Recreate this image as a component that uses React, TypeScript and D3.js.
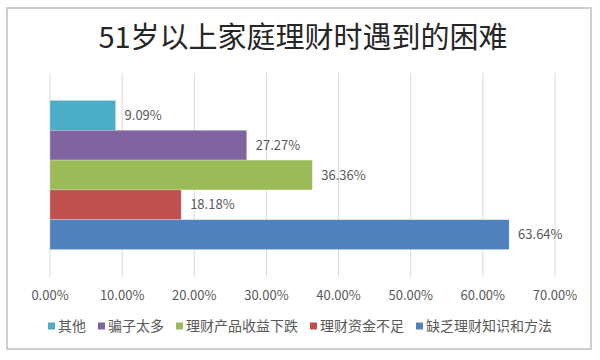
import React from 'react';
import * as d3 from 'd3';

// chart data
const title = '51岁以上家庭理财时遇到的困难';
const categories = ['其他', '骗子太多', '理财产品收益下跌', '理财资金不足', '缺乏理财知识和方法'];
const values = [9.09, 27.27, 36.36, 18.18, 63.64];
const colors = ['#4bacc6', '#8064a2', '#9bbb59', '#c0504d', '#4f81bd'];
const ticks = [0, 10, 20, 30, 40, 50, 60, 70];

const W = 600;
const H = 360;
const FONT = '"Microsoft YaHei", "Noto Sans CJK SC", sans-serif';

const App = () => {
  const x = d3.scaleLinear().domain([0, 70]).range([50, 555]);
  // plot area runs 73..277, the bars sit in the middle of it
  const plotTop = 73;
  const plotBottom = 277;
  const y = d3.scaleBand<string>()
    .domain(categories)
    .range([plotTop, plotBottom])
    .paddingInner(0)
    .paddingOuter(0.92);

  // legend layout: CJK glyphs are full width, so width = chars * font size
  const legendFs = 14;
  const marker = 7;
  const items = categories.map(c => marker + 3 + c.length * legendFs);
  const gap = 12;
  const total = d3.sum(items) + gap * (items.length - 1);
  let cursor = 300 - total / 2;
  const legendX = items.map(w => {
    const pos = cursor;
    cursor += w + gap;
    return pos;
  });

  return (
    <svg width={W} height={H} style={{ display: 'block', position: 'absolute', left: 0, top: 0 }} fontFamily={FONT}>
      <rect x={0} y={0} width={W} height={H} fill="#fff" />
      <rect x={7} y={8} width={584} height={341} fill="#fff" stroke="#bfbfbf" strokeWidth={1.5} />

      <text x={303} y={48} textAnchor="middle" fontSize={29} fill="#262626">{title}</text>

      {/* gridlines */}
      {ticks.map(t => (
        <line key={t} x1={x(t)} x2={x(t)} y1={plotTop} y2={plotBottom} stroke="#d9d9d9" strokeWidth={1} />
      ))}

      {/* bars */}
      {categories.map((c, i) => (
        <rect
          key={c}
          x={x(0)}
          y={y(c)}
          width={x(values[i]) - x(0)}
          height={y.bandwidth()}
          fill={colors[i]}
          stroke="#ffffff"
          strokeOpacity={0.4}
          strokeWidth={0.6}
        />
      ))}

      {/* data labels */}
      {categories.map((c, i) => (
        <text
          key={c}
          x={x(values[i]) + 9}
          y={(y(c) as number) + y.bandwidth() / 2}
          dy="0.35em"
          fontSize={13}
          fill="#595959"
        >
          {values[i].toFixed(2)}%
        </text>
      ))}

      {/* tick labels */}
      {ticks.map(t => (
        <text key={t} x={x(t)} y={295} dy="0.35em" textAnchor="middle" fontSize={13} fill="#595959">
          {t.toFixed(2)}%
        </text>
      ))}

      {/* legend */}
      {categories.map((c, i) => (
        <g key={c} transform={`translate(${legendX[i]}, 326)`}>
          <rect x={0} y={-marker / 2} width={marker} height={marker} fill={colors[i]} />
          <text x={marker + 3} y={0} dy="0.35em" fontSize={legendFs} fill="#595959">{c}</text>
        </g>
      ))}
    </svg>
  );
};

export default App;
